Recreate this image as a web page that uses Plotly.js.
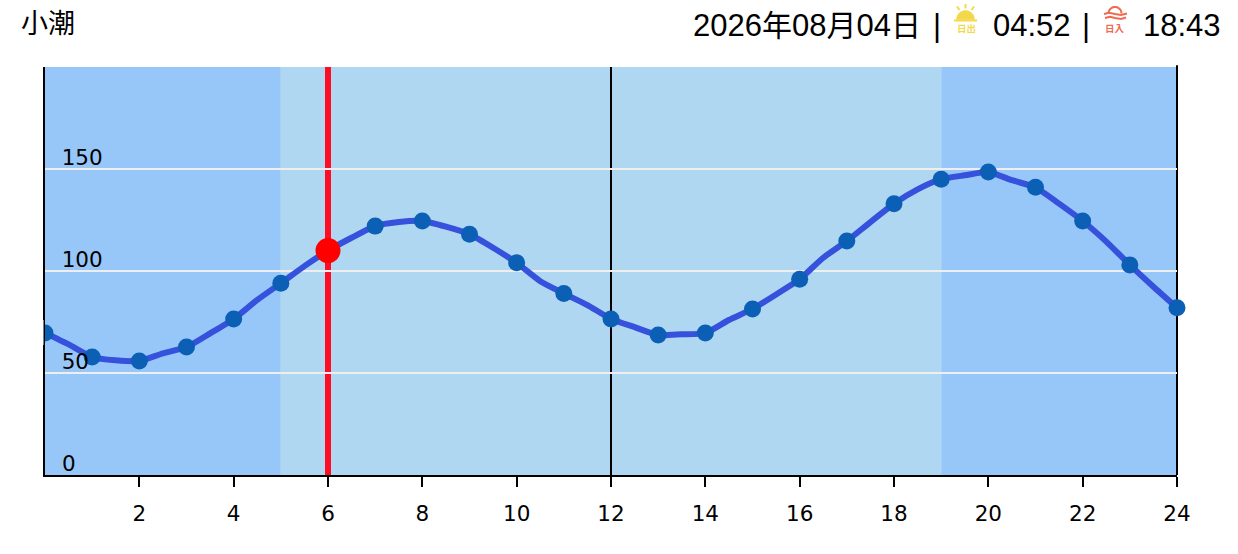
<!DOCTYPE html>
<html>
<head>
<meta charset="utf-8">
<script src="https://cdn.plot.ly/plotly-3.0.1.min.js"></script>
<style>
  html, body { margin: 0; padding: 0; background: #fff; }
  #tide { width: 1238px; height: 554px; }
</style>
</head>
<body>
<div id="tide"></div>
<script>
// tide curve, half hour steps
const curveHours = [0, 0.5, 1, 1.5, 2, 2.5, 3, 3.5, 4, 4.5, 5, 5.5, 6, 6.5, 7, 7.5, 8, 8.5, 9, 9.5, 10, 10.5, 11, 11.5, 12,
  12.5, 13, 13.5, 14, 14.5, 15, 15.5, 16, 16.5, 17, 17.5, 18, 18.5, 19, 19.5, 20, 20.5, 21, 21.5, 22, 22.5, 23, 23.5, 24];
const curveLevels = [69.6, 64, 57.8, 56.2, 55.9, 59.6, 62.7, 69.4, 76.5, 85.8, 94, 102.4, 110, 116.3, 122, 124, 124.5, 121.7, 118, 111.4, 104, 95, 89, 83.3, 76.5,
  72.5, 68.6, 69, 69.6, 76, 81.4, 88.5, 96, 106.5, 114.7, 124, 133, 140, 145, 146.9, 148.5, 144.5, 141, 133, 124.5, 114.4, 103, 92.3, 82];

// hourly dots
const dotHours = [0, 1, 2, 3, 4, 5, 6, 7, 8, 9, 10, 11, 12, 13, 14, 15, 16, 17, 18, 19, 20, 21, 22, 23, 24];
const dotLevels = [69.6, 57.8, 55.9, 62.7, 76.5, 94, 110, 122, 124.5, 118, 104, 89, 76.5, 68.6, 69.6, 81.4, 96, 114.7, 133, 145, 148.5, 141, 124.5, 103, 82];

const nowHour = [6];
const nowLevel = [110];

const xTicks = [2, 4, 6, 8, 10, 12, 14, 16, 18, 20, 22, 24];
const yTicks = [50, 100, 150, 200];
const yLabels = ['50', '100', '150', ''];

// day/night bands
const bandStarts = [0, 5, 19];
const bandEnds = [5, 19, 24];
const bandColors = ['#97c7f8', '#afd7f1', '#97c7f8'];

const LEFT = 45, RIGHT = 1177, TOP = 67, BOTTOM = 475;
// page pixels to paper coordinates, for header stuff
const px = x => (x - LEFT) / (RIGHT - LEFT);
const py = y => (BOTTOM - y) / (BOTTOM - TOP);

function iconPath(points) {
    return points.map((p, i) => (i ? 'L' : 'M') + px(p[0]) + ',' + py(p[1])).join(' ');
}

function arcPoints(cx, cy, r, steps) {
    let pts = [];
    for (let i = 0; i <= steps; i++) {
        let a = Math.PI * i / steps;
        pts.push([cx - r * Math.cos(a), cy - r * Math.sin(a)]);
    }
    return pts;
}

function iconShape(points, color, width, fill) {
    return {
        type: 'path', xref: 'paper', yref: 'paper', layer: 'above',
        path: iconPath(points) + (fill ? ' Z' : ''),
        line: { color: color, width: width },
        fillcolor: fill ? color : 'rgba(0,0,0,0)'
    };
}

function headerText(text, x, y, size, color, anchor) {
    return {
        xref: 'paper', yref: 'paper', x: px(x), y: py(y), text: text, showarrow: false,
        xanchor: anchor || 'left', yanchor: 'middle',
        font: { family: '"Liberation Sans", "Noto Sans CJK JP", sans-serif', size: size, color: color || '#000' }
    };
}

let shapes = bandStarts.map((s, i) => ({
    type: 'rect', xref: 'x', yref: 'paper', layer: 'below',
    x0: s, x1: bandEnds[i], y0: 0, y1: 1,
    fillcolor: bandColors[i], line: { width: 0 }
}));

// black hour lines and the red "now" line
shapes.push({ type: 'line', xref: 'x', yref: 'paper', layer: 'below', x0: 12, x1: 12, y0: 0, y1: 1, line: { color: '#000', width: 2 } });
shapes.push({ type: 'line', xref: 'paper', yref: 'paper', layer: 'below', x0: 1, x1: 1, y0: 0, y1: 1.004, line: { color: '#000', width: 2 } });
shapes.push({ type: 'line', xref: 'x', yref: 'paper', layer: 'below', x0: nowHour[0], x1: nowHour[0], y0: 0, y1: 1, line: { color: '#fc0d24', width: 6 } });

// hides the left half of the first dot
shapes.push({
    type: 'rect', xref: 'paper', yref: 'paper', layer: 'above',
    x0: px(25), x1: px(43.5), y0: py(345), y1: py(320),
    fillcolor: '#fff', line: { width: 0 }
});

// sunrise icon
const SUN = '#f3d94a', DUSK = '#ee6a52';
shapes.push(iconShape(arcPoints(965.5, 19.5, 9, 24), SUN, 0.5, true));
shapes.push(iconShape([[954, 20.5], [977, 20.5]], SUN, 2));
shapes.push(iconShape([[965.5, 4], [965.5, 8.5]], SUN, 2));
shapes.push(iconShape([[957, 6.5], [959.5, 10]], SUN, 2));
shapes.push(iconShape([[974, 6.5], [971.5, 10]], SUN, 2));

// sunset icon
shapes.push(iconShape(arcPoints(1115, 13.5, 6.5, 20), DUSK, 2));
shapes.push(iconShape([[1104, 14], [1109, 12.8], [1115, 14], [1121, 15], [1127, 13.5]], DUSK, 2));
shapes.push(iconShape([[1105, 18], [1110, 16.8], [1115, 18], [1121, 19], [1126, 17.5]], DUSK, 2));

const cjk = c => '<span style="font-size:30px">' + c + '</span>';

let annotations = [
    headerText('小潮', 19, 24, 27),
    headerText('2026' + cjk('年') + '08' + cjk('月') + '04' + cjk('日'), 691, 26, 31),
    headerText('|', 931, 26, 31),
    headerText('<b>日出</b>', 966, 28.5, 9.5, SUN, 'center'),
    headerText('04:52', 991, 26, 31),
    headerText('|', 1080, 26, 31),
    headerText('<b>日入</b>', 1115, 28.5, 9.5, DUSK, 'center'),
    headerText('18:43', 1141, 26, 31),
    // plotly drops the inside tick label at the very bottom, so 0 goes here
    {
        xref: 'paper', yref: 'paper', x: px(60), y: py(463), text: '0', showarrow: false,
        xanchor: 'left', yanchor: 'middle',
        font: { family: '"DejaVu Sans", sans-serif', size: 21.5, color: '#000' }
    }
];

let curve = {
    x: curveHours, y: curveLevels, mode: 'lines', type: 'scatter',
    line: { color: '#3652dc', width: 6, shape: 'spline', smoothing: 0.6 }, hoverinfo: 'skip', cliponaxis: false
};
let dots = {
    x: dotHours, y: dotLevels, mode: 'markers', type: 'scatter',
    marker: { color: '#0b5fb4', size: 17 }, cliponaxis: false
};
let now = {
    x: nowHour, y: nowLevel, mode: 'markers', type: 'scatter',
    marker: { color: '#ff0000', size: 25 }, cliponaxis: false
};

let layout = {
    width: 1238,
    height: 554,
    margin: { l: LEFT, r: 1238 - RIGHT, t: TOP, b: 554 - BOTTOM },
    paper_bgcolor: '#fff',
    plot_bgcolor: '#fff',
    showlegend: false,
    font: { family: '"DejaVu Sans", sans-serif', size: 21.5, color: '#000' },
    xaxis: {
        range: [0, 24],
        tickvals: xTicks,
        ticks: 'outside', ticklen: 10, tickwidth: 2, tickcolor: '#000',
        showgrid: false, zeroline: false,
        showline: true, linecolor: '#000', linewidth: 2,
        tickfont: { size: 21.5, color: '#000' }, ticklabelstandoff: 8
    },
    yaxis: {
        range: [0, 200],
        tickvals: yTicks,
        ticktext: yLabels,
        ticks: '',
        ticklabelposition: 'inside',
        ticklabelstandoff: 18,
        ticklabelshift: -12,
        showgrid: true, gridcolor: '#eee', gridwidth: 2, zeroline: false,
        showline: true, linecolor: '#000', linewidth: 2,
        tickfont: { size: 21.5, color: '#000' }
    },
    shapes: shapes,
    annotations: annotations
};

Plotly.newPlot('tide', [curve, dots, now], layout, { displayModeBar: false, staticPlot: true });
</script>
</body>
</html>
